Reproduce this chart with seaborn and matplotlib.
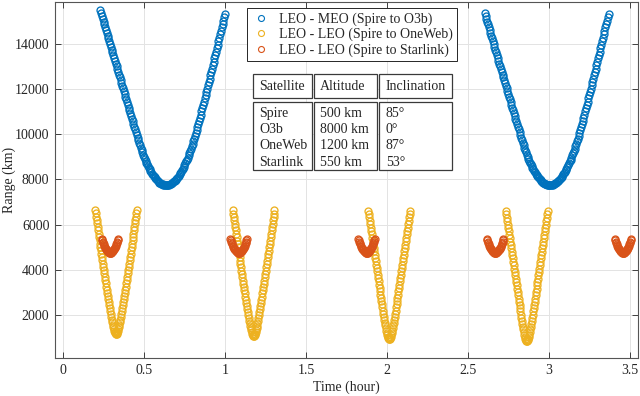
import numpy as np
import pandas as pd
import matplotlib
matplotlib.use("Agg")
import matplotlib.pyplot as plt
import seaborn as sns
from matplotlib.patches import Rectangle

# ---------------- data ----------------
series_names = ["LEO - MEO (Spire to O3b)",
                "LEO - LEO (Spire to OneWeb)",
                "LEO - LEO (Spire to Starlink)"]
series_colors = ["#0072BD", "#EDB120", "#D95319"]

# LEO-MEO, sample step 0.005 h
blue_step = 0.005
blue_starts = [0.230, 2.605]
blue_pass1 = [15505, 15379, 15254, 15128, 15003, 14878, 14753, 14628, 14504, 14379,
              14254, 14130, 14006, 13882, 13758, 13634, 13510, 13387, 13263, 13140,
              13017, 12894, 12771, 12648, 12525, 12403, 12280, 12158, 12036, 11913,
              11791, 11670, 11548, 11426, 11305, 11184, 11062, 10941, 10820, 10699,
              10579, 10458, 10338, 10217, 10097, 9977,
              9856, 9738, 9624, 9513, 9405, 9300, 9200, 9102, 9008, 8917, 8830, 8746,
              8665, 8588, 8514, 8444, 8377, 8313, 8253, 8196, 8143, 8093, 8046, 8003,
              7963, 7927, 7894, 7864, 7838, 7815, 7796, 7780, 7767, 7758, 7752, 7750,
              7751, 7756, 7763, 7775, 7789, 7807, 7829, 7853, 7882, 7913, 7948, 7987,
              8029, 8074, 8122, 8174, 8230, 8289, 8351, 8416, 8485, 8558, 8634, 8713,
              8796, 8882, 8971, 9064, 9160, 9260, 9363, 9469, 9579, 9692, 9809, 9929,
              10052, 10179, 10309, 10443,
              10584, 10727, 10871, 11014, 11159, 11303, 11448, 11594, 11740, 11886,
              12032, 12179, 12327, 12475, 12623, 12771, 12920, 13070, 13220, 13370,
              13521, 13672, 13823, 13975, 14127, 14280, 14433, 14586, 14740, 14894,
              15049, 15204, 15359]
blue_pass2 = [15379, 15254, 15128, 15003, 14878, 14753, 14628, 14504, 14379,
              14254, 14130, 14006, 13882, 13758, 13634, 13510, 13387, 13263, 13140,
              13017, 12894, 12771, 12648, 12525, 12403, 12280, 12158, 12036, 11913,
              11791, 11670, 11548, 11426, 11305, 11184, 11062, 10941, 10820, 10699,
              10579, 10458, 10338, 10217, 10097, 9977,
              9856, 9738, 9624, 9513, 9405, 9300, 9200, 9102, 9008, 8917, 8830, 8746,
              8665, 8588, 8514, 8444, 8377, 8313, 8253, 8196, 8143, 8093, 8046, 8003,
              7963, 7927, 7894, 7864, 7838, 7815, 7796, 7780, 7767, 7758, 7752, 7750,
              7751, 7756, 7763, 7775, 7789, 7807, 7829, 7853, 7882, 7913, 7948, 7987,
              8029, 8074, 8122, 8174, 8230, 8289, 8351, 8416, 8485, 8558, 8634, 8713,
              8796, 8882, 8971, 9064, 9160, 9260, 9363, 9469, 9579, 9692, 9809, 9929,
              10052, 10179, 10309, 10443,
              10584, 10727, 10871, 11014, 11159, 11303, 11448, 11594, 11740, 11886,
              12032, 12179, 12327, 12475, 12623, 12771, 12920, 13070, 13220, 13370,
              13521, 13672, 13823, 13975, 14127, 14280, 14433, 14586, 14740, 14894,
              15049, 15204, 15359]

# LEO-LEO OneWeb, sample step 0.003 h
yellow_step = 0.003
yellow_starts = [0.198, 1.048, 1.886, 2.736]
yellow_pass1 = [6650, 6501, 6350, 6201, 6051, 5901, 5752, 5602, 5454, 5305, 5156, 5008,
                4859, 4710, 4562, 4414, 4267, 4120, 3974, 3829, 3683, 3538, 3394, 3251,
                3109, 2967, 2827, 2687, 2550, 2415, 2281, 2150, 2021, 1897, 1777, 1662,
                1554, 1453, 1363, 1284, 1219, 1170, 1140, 1130,
                1140, 1170, 1219, 1284, 1363, 1453, 1554, 1662, 1777, 1897, 2021, 2150,
                2281, 2415, 2550, 2687, 2827, 2967, 3109, 3251, 3394, 3538, 3683, 3829,
                3974, 4120, 4267, 4414, 4562, 4710, 4859, 5008, 5156, 5305, 5454, 5602,
                5752, 5901, 6051, 6201, 6350, 6501, 6650]
yellow_pass2 = [6639, 6489, 6338, 6188, 6039, 5888, 5739, 5588, 5439, 5290, 5141, 4992,
                4843, 4695, 4545, 4397, 4249, 4101, 3955, 3808, 3662, 3517, 3371, 3227,
                3084, 2941, 2799, 2658, 2520, 2383, 2247, 2114, 1983, 1856, 1734, 1615,
                1504, 1400, 1305, 1223, 1154, 1103, 1071, 1060,
                1071, 1103, 1154, 1223, 1305, 1400, 1504, 1615, 1734, 1856, 1983, 2114,
                2247, 2383, 2520, 2658, 2799, 2941, 3084, 3227, 3371, 3517, 3662, 3808,
                3955, 4101, 4249, 4397, 4545, 4695, 4843, 4992, 5141, 5290, 5439, 5588,
                5739, 5888, 6039, 6188, 6338, 6489, 6639]
yellow_pass3 = [6618, 6467, 6316, 6165, 6015, 5864, 5714, 5563, 5413, 5264, 5113, 4964,
                4814, 4665, 4515, 4365, 4217, 4067, 3920, 3772, 3624, 3477, 3330, 3184,
                3039, 2893, 2749, 2606, 2464, 2324, 2184, 2047, 1912, 1780, 1652, 1527,
                1409, 1297, 1195, 1104, 1027, 969, 932, 920,
                932, 969, 1027, 1104, 1195, 1297, 1409, 1527, 1652, 1780, 1912, 2047,
                2184, 2324, 2464, 2606, 2749, 2893, 3039, 3184, 3330, 3477, 3624, 3772,
                3920, 4067, 4217, 4365, 4515, 4665, 4814, 4964, 5113, 5264, 5413, 5563,
                5714, 5864, 6015, 6165, 6316, 6467, 6618]
yellow_pass4 = [6604, 6454, 6302, 6151, 6001, 5849, 5699, 5547, 5397, 5247, 5096, 4946,
                4795, 4646, 4495, 4345, 4196, 4046, 3897, 3749, 3600, 3452, 3303, 3156,
                3010, 2863, 2718, 2572, 2429, 2286, 2144, 2004, 1866, 1731, 1598, 1469,
                1346, 1228, 1119, 1022, 939, 875, 834, 820,
                834, 875, 939, 1022, 1119, 1228, 1346, 1469, 1598, 1731, 1866, 2004,
                2144, 2286, 2429, 2572, 2718, 2863, 3010, 3156, 3303, 3452, 3600, 3749,
                3897, 4046, 4196, 4345, 4495, 4646, 4795, 4946, 5096, 5247, 5397, 5547,
                5699, 5849, 6001, 6151, 6302, 6454, 6604]

# LEO-LEO Starlink, sample step 0.003 h (same pass shape every time)
red_step = 0.003
red_starts = [0.239, 1.034, 1.824, 2.619, 3.409]
red_pass = [5367, 5300, 5237, 5177, 5120, 5067, 5018, 4972, 4931, 4893, 4860, 4831,
            4807, 4786, 4770, 4759, 4752, 4750,
            4752, 4759, 4770, 4786, 4807, 4831, 4860, 4893, 4931, 4972, 5018, 5067,
            5120, 5177, 5237, 5300, 5367]

x_ticks = [0, 0.5, 1, 1.5, 2, 2.5, 3, 3.5]
x_tick_labels = ["0", "0.5", "1", "1.5", "2", "2.5", "3", "3.5"]
y_ticks = [2000, 4000, 6000, 8000, 10000, 12000, 14000]
y_tick_labels = ["2000", "4000", "6000", "8000", "10000", "12000", "14000"]

table_header = ["Satellite", "Altitude", "Inclination"]
table_satellite = ["Spire", "O3b", "OneWeb", "Starlink"]
table_altitude = ["500 km", "8000 km", "1200 km", "550 km"]
table_inclination = ["85°", "0°", "87°", "53°"]


def build_frame(passes, starts, step):
    parts = []
    for vals, t0 in zip(passes, starts):
        t = t0 + step * np.arange(len(vals))
        parts.append(pd.DataFrame({"time": t, "range": vals}))
    return pd.concat(parts, ignore_index=True)


frames = [
    build_frame([blue_pass1, blue_pass2], blue_starts, blue_step),
    build_frame([yellow_pass1, yellow_pass2, yellow_pass3, yellow_pass4],
                yellow_starts, yellow_step),
    build_frame([red_pass] * len(red_starts), red_starts, red_step),
]

# ---------------- style ----------------
sns.set_theme(style="ticks")
plt.rcParams["font.family"] = ["Liberation Serif", "DejaVu Serif"]
text_color = "#262626"

W, H = 640, 396
fig = plt.figure(figsize=(W / 100, H / 100), dpi=100)
ax_l, ax_r, ax_t, ax_b = 55, 638, 2, 358
ax = fig.add_axes([ax_l / W, 1 - ax_b / H, (ax_r - ax_l) / W, (ax_b - ax_t) / H])

for df, name, col in zip(frames, series_names, series_colors):
    sns.lineplot(data=df, x="time", y="range", ax=ax, estimator=None, sort=False,
                 color=col, marker="o", linestyle="none", markersize=5.0,
                 markerfacecolor="none", markeredgecolor=col, markeredgewidth=0.95,
                 label=name)

ax.set_xlim(-0.05, 3.552)
ax.set_ylim(80, 15870)
ax.set_xticks(x_ticks)
ax.set_xticklabels(x_tick_labels)
ax.set_yticks(y_ticks)
ax.set_yticklabels(y_tick_labels)
ax.grid(True, color="#e3e3e3", linewidth=0.7)
ax.set_axisbelow(True)
ax.tick_params(direction="in", top=True, right=True, length=4, width=0.6,
               color=text_color, labelsize=10, labelcolor=text_color, pad=4)
for sp in ax.spines.values():
    sp.set_color("#555555")
    sp.set_linewidth(0.8)

ax.set_xlabel("Time (hour)", fontsize=10, color=text_color, labelpad=3)
ax.set_ylabel("Range (km)", fontsize=10, color=text_color)
ax.yaxis.set_label_coords((16 - ax_l) / (ax_r - ax_l), 0.5)

leg = ax.legend(loc="upper left", bbox_to_anchor=(247 / W, 1 - 8 / H),
                bbox_transform=fig.transFigure, frameon=True, fancybox=False,
                framealpha=1, edgecolor=text_color, fontsize=10,
                borderpad=0.3, labelspacing=0.15, handlelength=1.4,
                handletextpad=0.6, borderaxespad=0, numpoints=1)
leg.get_frame().set_linewidth(0.7)
for h in leg.legend_handles:
    h.set_markersize(4.3)
    h.set_markeredgewidth(0.8)
for t in leg.get_texts():
    t.set_color(text_color)

# ---------------- inset table ----------------
col_x = [(253, 312), (314, 377), (379, 452)]
text_x = [259, 320, 386]
head_y = (74, 98)
body_y = (102, 170)
row0_y, row_dy = 113.5, 16.2


def box(x0, x1, y0, y1):
    fig.add_artist(Rectangle((x0 / W, 1 - y1 / H), (x1 - x0) / W, (y1 - y0) / H,
                             transform=fig.transFigure, facecolor="white",
                             edgecolor="#3a3a3a", linewidth=0.9, zorder=5))


columns = [table_satellite, table_altitude, table_inclination]
for (x0, x1), tx, head, col in zip(col_x, text_x, table_header, columns):
    box(x0, x1, *head_y)
    box(x0, x1, *body_y)
    fig.text(tx / W, 1 - (sum(head_y) / 2) / H, head, ha="left", va="center",
             fontsize=10, color=text_color, zorder=6)
    for i, s in enumerate(col):
        fig.text(tx / W, 1 - (row0_y + i * row_dy) / H, s, ha="left", va="center",
                 fontsize=10, color=text_color, zorder=6)

fig.savefig("out.png", dpi=100)
